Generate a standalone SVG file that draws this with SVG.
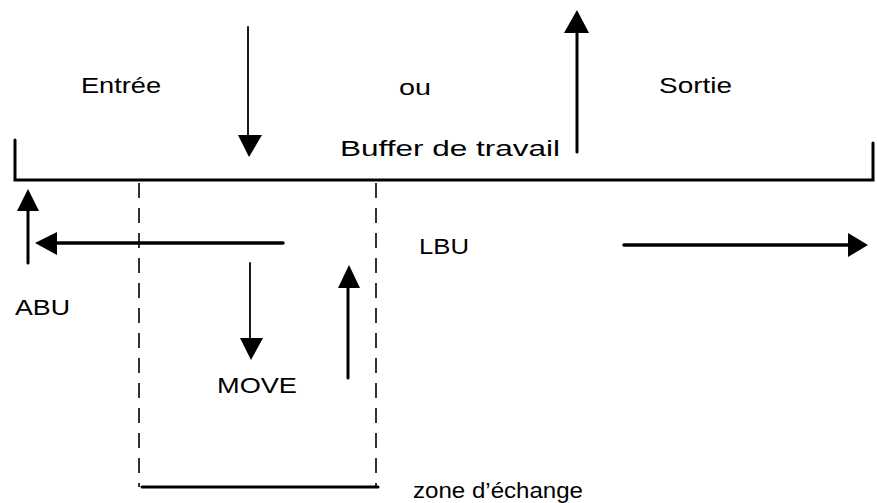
<svg xmlns="http://www.w3.org/2000/svg" width="877" height="503" viewBox="0 0 877 503">
<style>
.t{font-family:"Liberation Sans",Arial,sans-serif;font-size:22px;fill:#000}
.ln{stroke:#000;fill:none;stroke-linecap:round}
.dash{stroke:#000;stroke-width:1.6;stroke-dasharray:15 10;fill:none}
.hd{fill:#000}
</style>
<rect width="877" height="503" fill="#fff"/>
<g id="buffer">
<path class="ln" d="M15 140 V180 H873 V143" stroke-width="3"/>
<text class="t" x="340" y="156" textLength="220" lengthAdjust="spacingAndGlyphs">Buffer de travail</text>
</g>
<g id="zone">
<path class="dash" d="M139 183 V487"/>
<path class="dash" d="M376 183 V487"/>
<path class="ln" d="M142 487 H378" stroke-width="3"/>
<text class="t" x="413" y="498" textLength="170" lengthAdjust="spacingAndGlyphs">zone d’échange</text>
</g>
<g id="labels">
<text class="t" x="81" y="93" textLength="80" lengthAdjust="spacingAndGlyphs">Entrée</text>
<text class="t" x="399" y="95" textLength="32" lengthAdjust="spacingAndGlyphs">ou</text>
<text class="t" x="659" y="93" textLength="73" lengthAdjust="spacingAndGlyphs">Sortie</text>
<text class="t" x="15" y="315" textLength="55" lengthAdjust="spacingAndGlyphs">ABU</text>
<text class="t" x="419" y="254" textLength="50" lengthAdjust="spacingAndGlyphs">LBU</text>
<text class="t" x="217" y="393" textLength="80" lengthAdjust="spacingAndGlyphs">MOVE</text>
</g>
<g id="connectors">
<line class="ln" x1="248" y1="27" x2="248" y2="137" stroke-width="1.8"/>
<polygon class="hd" points="238,135 262,135 249,157"/>
<line class="ln" x1="577" y1="152" x2="577" y2="30" stroke-width="3"/>
<polygon class="hd" points="564,33 589,33 577,10"/>
<line class="ln" x1="28" y1="263" x2="28" y2="208" stroke-width="3"/>
<polygon class="hd" points="17,211 39,211 28,189"/>
<line class="ln" x1="283" y1="243" x2="55" y2="243" stroke-width="3.5"/>
<polygon class="hd" points="57,232 57,255 35,243"/>
<line class="ln" x1="250" y1="263" x2="250" y2="340" stroke-width="1.8"/>
<polygon class="hd" points="240,338 263,338 251,360"/>
<line class="ln" x1="348" y1="378" x2="348" y2="285" stroke-width="3"/>
<polygon class="hd" points="338,288 360,288 349,265"/>
<line class="ln" x1="624" y1="245" x2="850" y2="245" stroke-width="3.5"/>
<polygon class="hd" points="848,233 848,257 868,245"/>
</g>
</svg>
